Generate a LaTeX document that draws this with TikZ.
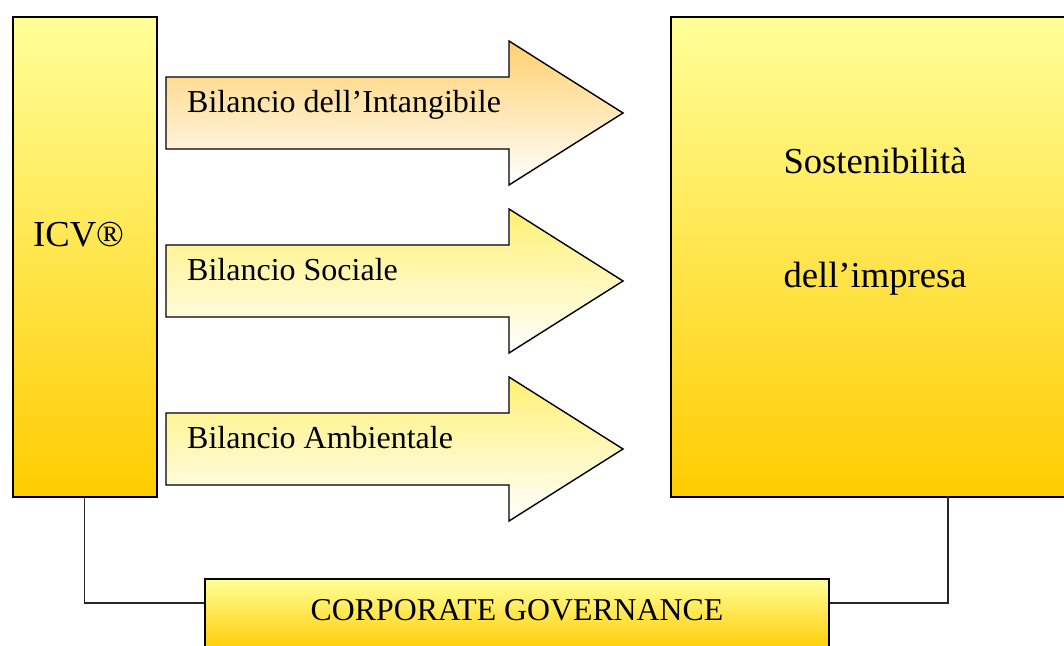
\documentclass[tikz,border=0pt]{standalone}
\usepackage{fontspec}
\setmainfont{Liberation Serif}
\definecolor{ylight}{RGB}{255,255,153}
\definecolor{ygold}{RGB}{255,204,0}
\definecolor{otop}{RGB}{255,208,110}
\definecolor{ytop}{RGB}{255,240,115}
\begin{document}
\begin{tikzpicture}[x=1pt,y=1pt,
  gbox/.style={draw=black, line width=1.6pt, rectangle, anchor=north west, inner sep=0pt,
               top color=ylight, bottom color=ygold},
  arrowA/.style={draw=black, line width=1.4pt, line join=miter, top color=otop, bottom color=white},
  arrowB/.style={draw=black, line width=1.4pt, line join=miter, top color=ytop, bottom color=white},
  conn/.style={draw=black!85, line width=1.3pt},
  smalltxt/.style={anchor=base west, inner sep=0pt, font=\fontsize{32}{38}\selectfont},
  bigtxt/.style={anchor=base, inner sep=0pt, font=\fontsize{36.6}{44}\selectfont}]
\useasboundingbox (0,0) rectangle (1064,-645);
\clip (0,0) rectangle (1064,-645);

% left box
\node[gbox, minimum width=144pt, minimum height=480pt] (icv) at (12,-16) {};
\node[anchor=base west, inner sep=0pt, font=\fontsize{36.6}{44}\selectfont] (icvt) at (33,-246) {ICV®};

% right box
\node[gbox, minimum width=410pt, minimum height=480pt] (sos) at (670,-16) {};
\node[bigtxt] (sos1) at (875,-173) {Sostenibilità};
\node[bigtxt] (sos2) at (875,-287) {dell’impresa};

% arrows
\path[arrowA] (166,-77) -- (509,-77) -- (509,-41) -- (623,-113) -- (509,-185) -- (509,-149) -- (166,-149) -- cycle;
\node[smalltxt] (b1) at (187,-112) {Bilancio dell’Intangibile};

\path[arrowB] (166,-245) -- (509,-245) -- (509,-209) -- (623,-281) -- (509,-353) -- (509,-317) -- (166,-317) -- cycle;
\node[smalltxt] (b2) at (187,-280) {Bilancio Sociale};

\path[arrowB] (166,-413) -- (509,-413) -- (509,-377) -- (623,-449) -- (509,-521) -- (509,-485) -- (166,-485) -- cycle;
\node[smalltxt] (b3) at (187,-448) {Bilancio Ambientale};

% corporate governance
\node[gbox, minimum width=624pt, minimum height=72pt] (cg) at (204,-578) {};
\node[anchor=base, inner sep=0pt, font=\fontsize{31.8}{38}\selectfont] (cgt) at (517,-620) {CORPORATE GOVERNANCE};

% connectors
\coordinate (cy) at (0,-603);
\coordinate (rj) at (948,-496);
\draw[conn] (icv.south) |- (cg.west |- cy);
\draw[conn] (cg.east |- cy) -| (rj);
\end{tikzpicture}
\end{document}
